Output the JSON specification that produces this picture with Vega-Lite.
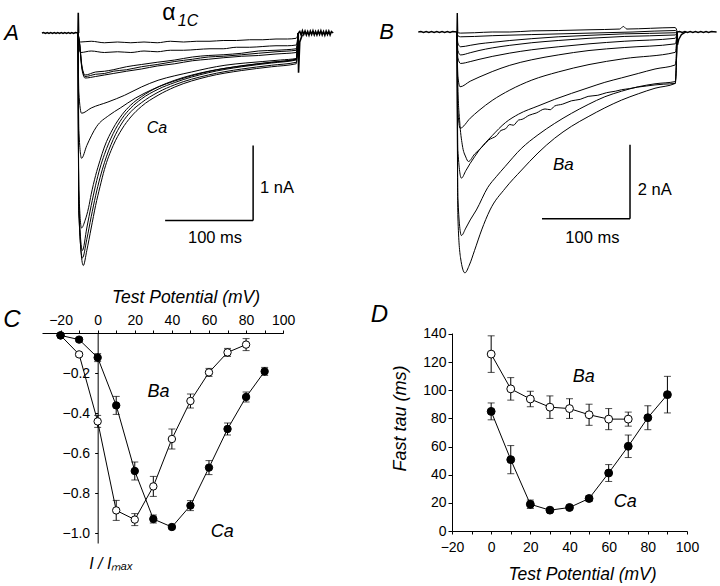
{
"padding": 0,
"autosize": {"type": "pad"},
"background": "white",
"spacing": 53,
"bounds": "flush",
"config": {
  "view": {"stroke": null},
  "font": "Liberation Sans",
  "text": {"color": "black", "font": "Liberation Sans"},
  "axis": {"grid": false, "domainColor": "black", "tickColor": "black", "labelColor": "black", "titleColor": "black", "labelFontSize": 14, "titleFontSize": 17.5, "titleFontStyle": "italic", "titleFontWeight": "normal", "labelFont": "Liberation Sans", "titleFont": "Liberation Sans", "tickSize": 3, "domainWidth": 1, "tickWidth": 1, "labelFlush": false, "labelOverlap": false}
},
"datasets": {
  "trA": [
    {"k":"a1","t":0,"i":0},{"k":"a1","t":1,"i":-0.09},{"k":"a1","t":3,"i":-0.12},{"k":"a1","t":15,"i":-0.11},{"k":"a1","t":30,"i":-0.13},{"k":"a1","t":45,"i":-0.12},{"k":"a1","t":60,"i":-0.13},{"k":"a1","t":75,"i":-0.12},{"k":"a1","t":90,"i":-0.13},{"k":"a1","t":105,"i":-0.11},{"k":"a1","t":120,"i":-0.12},{"k":"a1","t":135,"i":-0.11},{"k":"a1","t":150,"i":-0.11},{"k":"a1","t":165,"i":-0.1},{"k":"a1","t":180,"i":-0.1},{"k":"a1","t":195,"i":-0.09},{"k":"a1","t":210,"i":-0.09},{"k":"a1","t":225,"i":-0.08},{"k":"a1","t":238,"i":-0.08},{"k":"a1","t":248,"i":-0.07},{"k":"a1","t":250.3,"i":0},
    {"k":"a2","t":0,"i":0},{"k":"a2","t":1,"i":-0.18},{"k":"a2","t":3,"i":-0.26},{"k":"a2","t":15,"i":-0.24},{"k":"a2","t":30,"i":-0.26},{"k":"a2","t":45,"i":-0.25},{"k":"a2","t":60,"i":-0.26},{"k":"a2","t":75,"i":-0.24},{"k":"a2","t":90,"i":-0.25},{"k":"a2","t":105,"i":-0.23},{"k":"a2","t":120,"i":-0.23},{"k":"a2","t":135,"i":-0.22},{"k":"a2","t":150,"i":-0.21},{"k":"a2","t":165,"i":-0.21},{"k":"a2","t":180,"i":-0.19},{"k":"a2","t":195,"i":-0.19},{"k":"a2","t":210,"i":-0.18},{"k":"a2","t":225,"i":-0.17},{"k":"a2","t":238,"i":-0.17},{"k":"a2","t":248,"i":-0.16},{"k":"a2","t":250.3,"i":0},
    {"k":"a3","t":0,"i":0},{"k":"a3","t":2,"i":-0.16},{"k":"a3","t":4,"i":-0.42},{"k":"a3","t":6,"i":-0.54},{"k":"a3","t":8,"i":-0.58},{"k":"a3","t":20,"i":-0.55},{"k":"a3","t":30,"i":-0.54},{"k":"a3","t":40,"i":-0.51},{"k":"a3","t":55,"i":-0.49},{"k":"a3","t":72,"i":-0.45},{"k":"a3","t":90,"i":-0.42},{"k":"a3","t":110,"i":-0.38},{"k":"a3","t":130,"i":-0.35},{"k":"a3","t":148,"i":-0.32},{"k":"a3","t":165,"i":-0.31},{"k":"a3","t":186,"i":-0.29},{"k":"a3","t":205,"i":-0.27},{"k":"a3","t":225,"i":-0.25},{"k":"a3","t":248,"i":-0.23},{"k":"a3","t":250.3,"i":0},
    {"k":"a4","t":0,"i":0},{"k":"a4","t":2,"i":-0.15},{"k":"a4","t":4,"i":-0.4},{"k":"a4","t":6,"i":-0.52},{"k":"a4","t":8,"i":-0.56},{"k":"a4","t":20,"i":-0.52},{"k":"a4","t":30,"i":-0.51},{"k":"a4","t":40,"i":-0.49},{"k":"a4","t":55,"i":-0.45},{"k":"a4","t":72,"i":-0.42},{"k":"a4","t":90,"i":-0.39},{"k":"a4","t":110,"i":-0.36},{"k":"a4","t":130,"i":-0.32},{"k":"a4","t":148,"i":-0.3},{"k":"a4","t":165,"i":-0.29},{"k":"a4","t":186,"i":-0.27},{"k":"a4","t":205,"i":-0.24},{"k":"a4","t":225,"i":-0.23},{"k":"a4","t":248,"i":-0.21},{"k":"a4","t":250.3,"i":0},
    {"k":"a5","t":0,"i":0},{"k":"a5","t":2,"i":-0.17},{"k":"a5","t":4,"i":-0.44},{"k":"a5","t":6,"i":-0.56},{"k":"a5","t":8,"i":-0.6},{"k":"a5","t":20,"i":-0.58},{"k":"a5","t":30,"i":-0.56},{"k":"a5","t":40,"i":-0.54},{"k":"a5","t":55,"i":-0.51},{"k":"a5","t":72,"i":-0.48},{"k":"a5","t":90,"i":-0.44},{"k":"a5","t":110,"i":-0.41},{"k":"a5","t":130,"i":-0.37},{"k":"a5","t":148,"i":-0.35},{"k":"a5","t":165,"i":-0.33},{"k":"a5","t":186,"i":-0.31},{"k":"a5","t":205,"i":-0.3},{"k":"a5","t":225,"i":-0.28},{"k":"a5","t":248,"i":-0.26},{"k":"a5","t":250.3,"i":0},
    {"k":"a6","t":0,"i":0},{"k":"a6","t":1,"i":-0.8},{"k":"a6","t":4,"i":-1.07},{"k":"a6","t":15,"i":-1.0},{"k":"a6","t":34,"i":-0.92},{"k":"a6","t":53,"i":-0.83},{"k":"a6","t":72,"i":-0.72},{"k":"a6","t":91,"i":-0.63},{"k":"a6","t":110,"i":-0.57},{"k":"a6","t":129,"i":-0.52},{"k":"a6","t":148,"i":-0.47},{"k":"a6","t":167,"i":-0.43},{"k":"a6","t":190,"i":-0.4},{"k":"a6","t":210,"i":-0.38},{"k":"a6","t":230,"i":-0.36},{"k":"a6","t":248,"i":-0.34},{"k":"a6","t":250.3,"i":0},
    {"k":"a7","t":0,"i":0},{"k":"a7","t":1,"i":-1.3},{"k":"a7","t":4,"i":-1.67},{"k":"a7","t":10,"i":-1.5},{"k":"a7","t":21,"i":-1.25},{"k":"a7","t":35,"i":-1.1},{"k":"a7","t":48,"i":-1.0},{"k":"a7","t":65,"i":-0.87},{"k":"a7","t":85,"i":-0.75},{"k":"a7","t":115,"i":-0.62},{"k":"a7","t":150,"i":-0.51},{"k":"a7","t":190,"i":-0.43},{"k":"a7","t":220,"i":-0.39},{"k":"a7","t":248,"i":-0.35},{"k":"a7","t":250.3,"i":0},
    {"k":"a8","t":0,"i":0},{"k":"a8","t":1,"i":-2.1},{"k":"a8","t":4,"i":-2.6},{"k":"a8","t":8,"i":-2.5},{"k":"a8","t":12,"i":-2.33},{"k":"a8","t":15,"i":-2.15},{"k":"a8","t":20,"i":-1.9},{"k":"a8","t":25,"i":-1.7},{"k":"a8","t":30,"i":-1.52},{"k":"a8","t":40,"i":-1.27},{"k":"a8","t":50,"i":-1.09},{"k":"a8","t":60,"i":-0.96},{"k":"a8","t":72,"i":-0.85},{"k":"a8","t":91,"i":-0.72},{"k":"a8","t":110,"i":-0.63},{"k":"a8","t":148,"i":-0.51},{"k":"a8","t":186,"i":-0.44},{"k":"a8","t":220,"i":-0.39},{"k":"a8","t":248,"i":-0.35},{"k":"a8","t":250.3,"i":0},
    {"k":"a9","t":0,"i":0},{"k":"a9","t":1,"i":-2.3},{"k":"a9","t":5,"i":-2.9},{"k":"a9","t":10,"i":-2.6},{"k":"a9","t":15,"i":-2.3},{"k":"a9","t":20,"i":-2.03},{"k":"a9","t":25,"i":-1.8},{"k":"a9","t":30,"i":-1.62},{"k":"a9","t":40,"i":-1.34},{"k":"a9","t":50,"i":-1.14},{"k":"a9","t":60,"i":-1.0},{"k":"a9","t":72,"i":-0.88},{"k":"a9","t":91,"i":-0.75},{"k":"a9","t":110,"i":-0.66},{"k":"a9","t":148,"i":-0.53},{"k":"a9","t":186,"i":-0.45},{"k":"a9","t":220,"i":-0.4},{"k":"a9","t":248,"i":-0.36},{"k":"a9","t":250.3,"i":0},
    {"k":"a10","t":0,"i":0},{"k":"a10","t":1,"i":-2.4},{"k":"a10","t":5,"i":-3.0},{"k":"a10","t":10,"i":-2.75},{"k":"a10","t":15,"i":-2.45},{"k":"a10","t":20,"i":-2.17},{"k":"a10","t":25,"i":-1.93},{"k":"a10","t":30,"i":-1.73},{"k":"a10","t":40,"i":-1.42},{"k":"a10","t":50,"i":-1.2},{"k":"a10","t":60,"i":-1.05},{"k":"a10","t":72,"i":-0.93},{"k":"a10","t":91,"i":-0.79},{"k":"a10","t":110,"i":-0.69},{"k":"a10","t":148,"i":-0.56},{"k":"a10","t":186,"i":-0.48},{"k":"a10","t":220,"i":-0.43},{"k":"a10","t":248,"i":-0.39},{"k":"a10","t":250.3,"i":0},
    {"k":"a11","t":0,"i":0},{"k":"a11","t":1,"i":-2.4},{"k":"a11","t":6,"i":-3.1},{"k":"a11","t":10,"i":-2.9},{"k":"a11","t":15,"i":-2.6},{"k":"a11","t":20,"i":-2.3},{"k":"a11","t":25,"i":-2.05},{"k":"a11","t":30,"i":-1.82},{"k":"a11","t":40,"i":-1.5},{"k":"a11","t":50,"i":-1.28},{"k":"a11","t":60,"i":-1.12},{"k":"a11","t":72,"i":-0.98},{"k":"a11","t":91,"i":-0.83},{"k":"a11","t":110,"i":-0.72},{"k":"a11","t":148,"i":-0.58},{"k":"a11","t":186,"i":-0.5},{"k":"a11","t":220,"i":-0.45},{"k":"a11","t":248,"i":-0.41},{"k":"a11","t":250.3,"i":0}
  ],
  "bsA": [
    {"k":"pre","t":-41,"i":0},{"k":"pre","t":-39,"i":0.006},{"k":"pre","t":-37,"i":-0.006},{"k":"pre","t":-35,"i":0.006},{"k":"pre","t":-33,"i":-0.006},{"k":"pre","t":-31,"i":0.006},{"k":"pre","t":-29,"i":-0.006},{"k":"pre","t":-27,"i":0.006},{"k":"pre","t":-25,"i":-0.006},{"k":"pre","t":-23,"i":0.006},{"k":"pre","t":-21,"i":-0.006},{"k":"pre","t":-19,"i":0.006},{"k":"pre","t":-17,"i":-0.006},{"k":"pre","t":-15,"i":0.006},{"k":"pre","t":-13,"i":-0.006},{"k":"pre","t":-11,"i":0.006},{"k":"pre","t":-9,"i":-0.006},{"k":"pre","t":-7,"i":0.006},{"k":"pre","t":-5,"i":-0.006},{"k":"pre","t":-3,"i":0.006},{"k":"pre","t":0,"i":0},
    {"k":"post","t":250.3,"i":0},{"k":"post","t":252,"i":0.02},{"k":"post","t":253.5,"i":-0.025},{"k":"post","t":255,"i":0.03},{"k":"post","t":256.5,"i":-0.02},{"k":"post","t":258,"i":0.025},{"k":"post","t":259.5,"i":-0.025},{"k":"post","t":261,"i":0.02},{"k":"post","t":262.5,"i":-0.03},{"k":"post","t":264,"i":0.025},{"k":"post","t":265.5,"i":-0.02},{"k":"post","t":267,"i":0.03},{"k":"post","t":268.5,"i":-0.025},{"k":"post","t":270,"i":0.02},{"k":"post","t":271.5,"i":-0.025},{"k":"post","t":273,"i":0.025},{"k":"post","t":274.5,"i":-0.02},{"k":"post","t":276,"i":0.03},{"k":"post","t":277.5,"i":-0.025},{"k":"post","t":279,"i":0.02},{"k":"post","t":280.5,"i":-0.03},{"k":"post","t":282,"i":0.025},{"k":"post","t":283.5,"i":-0.02},{"k":"post","t":285,"i":0.025},{"k":"post","t":286.5,"i":-0.025},{"k":"post","t":288,"i":0.02},{"k":"post","t":290,"i":0},
    {"k":"cap","t":0,"i":0},{"k":"cap","t":0.3,"i":0.27},{"k":"cap","t":0.7,"i":0},
    {"k":"tail","t":250.3,"i":0},{"k":"tail","t":250.6,"i":-0.53},{"k":"tail","t":252,"i":-0.12},{"k":"tail","t":255,"i":-0.02}
  ],
  "barA": [{"t":99,"t2":199,"i":-2.5,"i2":-2.5},{"t":199,"t2":199,"i":-2.5,"i2":-1.5}],
  "txA": [
    {"g":"L","t":-75.6,"i":0,"s":"A"},
    {"g":"al","t":103.4,"i":0.27,"s":"α"},
    {"g":"it","t":125,"i":0.16,"s":"1C"},
    {"g":"it","t":89.8,"i":-1.267,"s":"Ca"},
    {"g":"sc","t":226.1,"i":-2.067,"s":"1 nA"},
    {"g":"sc","t":155.7,"i":-2.733,"s":"100 ms"}
  ],
  "trB": [
    {"k":"b1","t":0,"i":0},{"k":"b1","t":1,"i":-0.02},{"k":"b1","t":4,"i":-0.03},{"k":"b1","t":20,"i":-0.02},{"k":"b1","t":40,"i":0.0},{"k":"b1","t":60,"i":0.0},{"k":"b1","t":85,"i":0.03},{"k":"b1","t":115,"i":0.04},{"k":"b1","t":150,"i":0.06},{"k":"b1","t":185,"i":0.08},{"k":"b1","t":189,"i":0.15},{"k":"b1","t":193,"i":0.08},{"k":"b1","t":220,"i":0.1},{"k":"b1","t":248,"i":0.12},{"k":"b1","t":250.3,"i":0},
    {"k":"b2","t":0,"i":0},{"k":"b2","t":1,"i":-0.1},{"k":"b2","t":4,"i":-0.13},{"k":"b2","t":20,"i":-0.12},{"k":"b2","t":40,"i":-0.1},{"k":"b2","t":85,"i":-0.07},{"k":"b2","t":150,"i":-0.03},{"k":"b2","t":200,"i":0.0},{"k":"b2","t":248,"i":0.04},{"k":"b2","t":250.3,"i":0},
    {"k":"b3","t":0,"i":0},{"k":"b3","t":1,"i":-0.3},{"k":"b3","t":4,"i":-0.4},{"k":"b3","t":15,"i":-0.36},{"k":"b3","t":25,"i":-0.32},{"k":"b3","t":40,"i":-0.28},{"k":"b3","t":60,"i":-0.23},{"k":"b3","t":85,"i":-0.18},{"k":"b3","t":115,"i":-0.13},{"k":"b3","t":150,"i":-0.09},{"k":"b3","t":190,"i":-0.05},{"k":"b3","t":248,"i":-0.02},{"k":"b3","t":250.3,"i":0},
    {"k":"b4","t":0,"i":0},{"k":"b4","t":1,"i":-0.5},{"k":"b4","t":4,"i":-0.62},{"k":"b4","t":15,"i":-0.56},{"k":"b4","t":25,"i":-0.5},{"k":"b4","t":40,"i":-0.43},{"k":"b4","t":60,"i":-0.36},{"k":"b4","t":85,"i":-0.29},{"k":"b4","t":115,"i":-0.23},{"k":"b4","t":150,"i":-0.17},{"k":"b4","t":190,"i":-0.12},{"k":"b4","t":248,"i":-0.08},{"k":"b4","t":250.3,"i":0},
    {"k":"b5","t":0,"i":0},{"k":"b5","t":1,"i":-0.7},{"k":"b5","t":4,"i":-0.85},{"k":"b5","t":15,"i":-0.8},{"k":"b5","t":25,"i":-0.74},{"k":"b5","t":40,"i":-0.66},{"k":"b5","t":60,"i":-0.57},{"k":"b5","t":85,"i":-0.48},{"k":"b5","t":115,"i":-0.4},{"k":"b5","t":150,"i":-0.32},{"k":"b5","t":190,"i":-0.25},{"k":"b5","t":248,"i":-0.17},{"k":"b5","t":250.3,"i":0},
    {"k":"b6","t":0,"i":0},{"k":"b6","t":1,"i":-1.2},{"k":"b6","t":3.5,"i":-1.48},{"k":"b6","t":15,"i":-1.33},{"k":"b6","t":25,"i":-1.22},{"k":"b6","t":40,"i":-1.07},{"k":"b6","t":60,"i":-0.9},{"k":"b6","t":85,"i":-0.75},{"k":"b6","t":115,"i":-0.62},{"k":"b6","t":150,"i":-0.5},{"k":"b6","t":190,"i":-0.42},{"k":"b6","t":248,"i":-0.32},{"k":"b6","t":250.3,"i":0},
    {"k":"b7","t":0,"i":0},{"k":"b7","t":1,"i":-2.1},{"k":"b7","t":3.5,"i":-2.6},{"k":"b7","t":15,"i":-2.33},{"k":"b7","t":25,"i":-2.12},{"k":"b7","t":40,"i":-1.85},{"k":"b7","t":60,"i":-1.57},{"k":"b7","t":85,"i":-1.3},{"k":"b7","t":115,"i":-1.08},{"k":"b7","t":150,"i":-0.88},{"k":"b7","t":190,"i":-0.72},{"k":"b7","t":248,"i":-0.55},{"k":"b7","t":250.3,"i":0},
    {"k":"b8","t":0,"i":0},{"k":"b8","t":1,"i":-1.5},{"k":"b8","t":3,"i":-2.4},{"k":"b8","t":6,"i":-3.05},{"k":"b8","t":10,"i":-3.38},{"k":"b8","t":13,"i":-3.5},{"k":"b8","t":20,"i":-3.3},{"k":"b8","t":28,"i":-3.12},{"k":"b8","t":36,"i":-2.92},{"k":"b8","t":45,"i":-2.8},{"k":"b8","t":50,"i":-2.66},{"k":"b8","t":55,"i":-2.62},{"k":"b8","t":60,"i":-2.5},{"k":"b8","t":64,"i":-2.52},{"k":"b8","t":70,"i":-2.38},{"k":"b8","t":74,"i":-2.36},{"k":"b8","t":82,"i":-2.25},{"k":"b8","t":90,"i":-2.19},{"k":"b8","t":100,"i":-2.08},{"k":"b8","t":106,"i":-2.1},{"k":"b8","t":111,"i":-2.0},{"k":"b8","t":120,"i":-1.95},{"k":"b8","t":130,"i":-1.86},{"k":"b8","t":140,"i":-1.82},{"k":"b8","t":149,"i":-1.74},{"k":"b8","t":160,"i":-1.71},{"k":"b8","t":170,"i":-1.64},{"k":"b8","t":180,"i":-1.6},{"k":"b8","t":187,"i":-1.56},{"k":"b8","t":196,"i":-1.53},{"k":"b8","t":205,"i":-1.49},{"k":"b8","t":215,"i":-1.46},{"k":"b8","t":225,"i":-1.43},{"k":"b8","t":235,"i":-1.41},{"k":"b8","t":248,"i":-1.39},{"k":"b8","t":250.3,"i":0},
    {"k":"b9","t":0,"i":0},{"k":"b9","t":1,"i":-3.2},{"k":"b9","t":5,"i":-3.95},{"k":"b9","t":10,"i":-3.75},{"k":"b9","t":15,"i":-3.55},{"k":"b9","t":20,"i":-3.37},{"k":"b9","t":25,"i":-3.2},{"k":"b9","t":40,"i":-2.8},{"k":"b9","t":55,"i":-2.45},{"k":"b9","t":70,"i":-2.22},{"k":"b9","t":92,"i":-2.0},{"k":"b9","t":111,"i":-1.82},{"k":"b9","t":130,"i":-1.66},{"k":"b9","t":150,"i":-1.5},{"k":"b9","t":168,"i":-1.36},{"k":"b9","t":187,"i":-1.24},{"k":"b9","t":206,"i":-1.12},{"k":"b9","t":225,"i":-1.0},{"k":"b9","t":248,"i":-0.89},{"k":"b9","t":250.3,"i":0},
    {"k":"b10","t":0,"i":0},{"k":"b10","t":1,"i":-4.5},{"k":"b10","t":5,"i":-5.5},{"k":"b10","t":10,"i":-5.3},{"k":"b10","t":15,"i":-5.08},{"k":"b10","t":22,"i":-4.81},{"k":"b10","t":35,"i":-4.2},{"k":"b10","t":45,"i":-3.9},{"k":"b10","t":54.5,"i":-3.64},{"k":"b10","t":73,"i":-3.15},{"k":"b10","t":92,"i":-2.78},{"k":"b10","t":111,"i":-2.47},{"k":"b10","t":130,"i":-2.2},{"k":"b10","t":149,"i":-1.96},{"k":"b10","t":168,"i":-1.75},{"k":"b10","t":187,"i":-1.6},{"k":"b10","t":206,"i":-1.48},{"k":"b10","t":225,"i":-1.4},{"k":"b10","t":248,"i":-1.34},{"k":"b10","t":250.3,"i":0},
    {"k":"b11","t":0,"i":0},{"k":"b11","t":1,"i":-5.0},{"k":"b11","t":4,"i":-6.1},{"k":"b11","t":9,"i":-6.51},{"k":"b11","t":14,"i":-6.3},{"k":"b11","t":20,"i":-5.9},{"k":"b11","t":28,"i":-5.35},{"k":"b11","t":37.5,"i":-4.81},{"k":"b11","t":55,"i":-4.22},{"k":"b11","t":73.5,"i":-3.73},{"k":"b11","t":92,"i":-3.27},{"k":"b11","t":111,"i":-2.87},{"k":"b11","t":130,"i":-2.55},{"k":"b11","t":149,"i":-2.29},{"k":"b11","t":168,"i":-2.05},{"k":"b11","t":187,"i":-1.84},{"k":"b11","t":206,"i":-1.67},{"k":"b11","t":225,"i":-1.52},{"k":"b11","t":248,"i":-1.39},{"k":"b11","t":250.3,"i":0}
  ],
  "bsB": [
    {"k":"pre","t":-44,"i":0},{"k":"pre","t":-41,"i":0.012},{"k":"pre","t":-38,"i":-0.012},{"k":"pre","t":-35,"i":0.012},{"k":"pre","t":-32,"i":-0.012},{"k":"pre","t":-29,"i":0.012},{"k":"pre","t":-26,"i":-0.012},{"k":"pre","t":-23,"i":0.012},{"k":"pre","t":-20,"i":-0.012},{"k":"pre","t":-17,"i":0.012},{"k":"pre","t":-14,"i":-0.012},{"k":"pre","t":-11,"i":0.012},{"k":"pre","t":-8,"i":-0.012},{"k":"pre","t":-5,"i":0.012},{"k":"pre","t":0,"i":0},
    {"k":"post","t":250.3,"i":0},{"k":"post","t":253,"i":0.012},{"k":"post","t":256,"i":-0.012},{"k":"post","t":259,"i":0.012},{"k":"post","t":262,"i":-0.012},{"k":"post","t":265,"i":0.012},{"k":"post","t":268,"i":-0.012},{"k":"post","t":271,"i":0.012},{"k":"post","t":274,"i":-0.012},{"k":"post","t":277,"i":0.012},{"k":"post","t":280,"i":-0.012},{"k":"post","t":283,"i":0.012},{"k":"post","t":286,"i":-0.012},{"k":"post","t":289,"i":0.012},{"k":"post","t":295,"i":0},
    {"k":"cap","t":0,"i":0},{"k":"cap","t":0.3,"i":0.51},{"k":"cap","t":0.7,"i":0},
    {"k":"tail","t":250.3,"i":0},{"k":"tail","t":250.6,"i":-0.35},{"k":"tail","t":252,"i":-0.2},{"k":"tail","t":255,"i":-0.07},{"k":"tail","t":260,"i":0}
  ],
  "barB": [{"t":96.6,"t2":196.6,"i":-5.05,"i2":-5.05},{"t":196.6,"t2":196.6,"i":-5.05,"i2":-3.05}],
  "txB": [
    {"g":"L","t":-80.1,"i":0,"s":"B"},
    {"g":"it","t":120.8,"i":-3.6,"s":"Ba"},
    {"g":"sc","t":224.8,"i":-4.27,"s":"2 nA"},
    {"g":"sc","t":153.8,"i":-5.57,"s":"100 ms"}
  ],
  "C": [
    {"s":"Ba","v":-20,"m":-0.012,"lo":-0.022,"hi":-0.002},
    {"s":"Ba","v":-10,"m":-0.107,"lo":-0.117,"hi":-0.097},
    {"s":"Ba","v":0,"m":-0.442,"lo":-0.472,"hi":-0.412},
    {"s":"Ba","v":10,"m":-0.887,"lo":-0.937,"hi":-0.837},
    {"s":"Ba","v":20,"m":-0.933,"lo":-0.963,"hi":-0.903},
    {"s":"Ba","v":30,"m":-0.767,"lo":-0.817,"hi":-0.717},
    {"s":"Ba","v":40,"m":-0.53,"lo":-0.58,"hi":-0.48},
    {"s":"Ba","v":50,"m":-0.34,"lo":-0.375,"hi":-0.305},
    {"s":"Ba","v":60,"m":-0.197,"lo":-0.217,"hi":-0.177},
    {"s":"Ba","v":70,"m":-0.097,"lo":-0.117,"hi":-0.077},
    {"s":"Ba","v":80,"m":-0.058,"lo":-0.088,"hi":-0.028},
    {"s":"Ca","v":-20,"m":-0.012,"lo":-0.02,"hi":-0.004},
    {"s":"Ca","v":-10,"m":-0.033,"lo":-0.043,"hi":-0.023},
    {"s":"Ca","v":0,"m":-0.123,"lo":-0.143,"hi":-0.103},
    {"s":"Ca","v":10,"m":-0.362,"lo":-0.407,"hi":-0.317},
    {"s":"Ca","v":20,"m":-0.69,"lo":-0.735,"hi":-0.645},
    {"s":"Ca","v":30,"m":-0.93,"lo":-0.95,"hi":-0.91},
    {"s":"Ca","v":40,"m":-0.97,"lo":-0.98,"hi":-0.96},
    {"s":"Ca","v":50,"m":-0.863,"lo":-0.888,"hi":-0.838},
    {"s":"Ca","v":60,"m":-0.673,"lo":-0.708,"hi":-0.638},
    {"s":"Ca","v":70,"m":-0.48,"lo":-0.51,"hi":-0.45},
    {"s":"Ca","v":80,"m":-0.32,"lo":-0.345,"hi":-0.295},
    {"s":"Ca","v":90,"m":-0.192,"lo":-0.212,"hi":-0.172}
  ],
  "txC": [
    {"g":"L","v":-46.2,"m":0.065,"s":"C"},
    {"g":"it","v":32.8,"m":-0.2935,"s":"Ba"},
    {"g":"it","v":67.1,"m":-0.9935,"s":"Ca"}
  ],
  "D": [
    {"s":"Ba","v":0,"m":125.7,"lo":112.7,"hi":138.7},
    {"s":"Ba","v":10,"m":101,"lo":93,"hi":109},
    {"s":"Ba","v":20,"m":93.8,"lo":88.3,"hi":99.3},
    {"s":"Ba","v":30,"m":88,"lo":80,"hi":96},
    {"s":"Ba","v":40,"m":87,"lo":80,"hi":94},
    {"s":"Ba","v":50,"m":82.6,"lo":75.1,"hi":90.1},
    {"s":"Ba","v":60,"m":79.5,"lo":72,"hi":87},
    {"s":"Ba","v":70,"m":79.5,"lo":74.5,"hi":84.5},
    {"s":"Ca","v":0,"m":85,"lo":79,"hi":91},
    {"s":"Ca","v":10,"m":50.7,"lo":40.7,"hi":60.7},
    {"s":"Ca","v":20,"m":19,"lo":16,"hi":22},
    {"s":"Ca","v":30,"m":14.8,"lo":13.8,"hi":15.8},
    {"s":"Ca","v":40,"m":16.7,"lo":15.7,"hi":17.7},
    {"s":"Ca","v":50,"m":23.1,"lo":21.1,"hi":25.1},
    {"s":"Ca","v":60,"m":41.2,"lo":35.2,"hi":47.2},
    {"s":"Ca","v":70,"m":60.2,"lo":52.2,"hi":68.2},
    {"s":"Ca","v":80,"m":80.5,"lo":72,"hi":89},
    {"s":"Ca","v":90,"m":96.9,"lo":83.9,"hi":109.9}
  ],
  "txD": [
    {"g":"L","v":-57.0,"m":153.5,"s":"D"},
    {"g":"it","v":47.25,"m":109.2,"s":"Ba"},
    {"g":"it","v":68.5,"m":20.8,"s":"Ca"}
  ]
},
"vconcat": [
  {
    "width": 720, "height": 280,
    "resolve": {"scale": {"x": "independent", "y": "independent"}},
    "layer": [
      {
        "encoding": {
          "x": {"field": "t", "type": "quantitative", "scale": {"domain": [-88.64, 729.55], "nice": false, "zero": false}, "axis": null},
          "y": {"field": "i", "type": "quantitative", "scale": {"domain": [-3.2933, 0.44], "nice": false, "zero": false}, "axis": null}
        },
        "layer": [
          {"data": {"name": "trA"}, "mark": {"type": "line", "color": "black", "strokeWidth": 1, "interpolate": "monotone"}, "encoding": {"detail": {"field": "k", "type": "nominal"}}},
          {"data": {"name": "bsA"}, "mark": {"type": "line", "color": "black", "strokeWidth": 1.6}, "encoding": {"detail": {"field": "k", "type": "nominal"}}},
          {"data": {"name": "barA"}, "mark": {"type": "rule", "color": "black", "strokeWidth": 1.5}, "encoding": {"x2": {"field": "t2"}, "y2": {"field": "i2"}}},
          {"data": {"name": "txA"}, "transform": [{"filter": "datum.g == 'L'"}], "mark": {"type": "text", "fontSize": 22, "fontStyle": "italic"}, "encoding": {"text": {"field": "s", "type": "nominal"}}},
          {"data": {"name": "txA"}, "transform": [{"filter": "datum.g == 'al'"}], "mark": {"type": "text", "fontSize": 23}, "encoding": {"text": {"field": "s", "type": "nominal"}}},
          {"data": {"name": "txA"}, "transform": [{"filter": "datum.g == 'it'"}], "mark": {"type": "text", "fontSize": 16, "fontStyle": "italic"}, "encoding": {"text": {"field": "s", "type": "nominal"}}},
          {"data": {"name": "txA"}, "transform": [{"filter": "datum.g == 'sc'"}], "mark": {"type": "text", "fontSize": 16.5}, "encoding": {"text": {"field": "s", "type": "nominal"}}}
        ]
      },
      {
        "encoding": {
          "x": {"field": "t", "type": "quantitative", "scale": {"domain": [-519.32, 298.86], "nice": false, "zero": false}, "axis": null},
          "y": {"field": "i", "type": "quantitative", "scale": {"domain": [-6.7027, 0.8649], "nice": false, "zero": false}, "axis": null}
        },
        "layer": [
          {"data": {"name": "trB"}, "mark": {"type": "line", "color": "black", "strokeWidth": 1, "interpolate": "monotone"}, "encoding": {"detail": {"field": "k", "type": "nominal"}}},
          {"data": {"name": "bsB"}, "mark": {"type": "line", "color": "black", "strokeWidth": 1.4}, "encoding": {"detail": {"field": "k", "type": "nominal"}}},
          {"data": {"name": "barB"}, "mark": {"type": "rule", "color": "black", "strokeWidth": 1.5}, "encoding": {"x2": {"field": "t2"}, "y2": {"field": "i2"}}},
          {"data": {"name": "txB"}, "transform": [{"filter": "datum.g == 'L'"}], "mark": {"type": "text", "fontSize": 22, "fontStyle": "italic"}, "encoding": {"text": {"field": "s", "type": "nominal"}}},
          {"data": {"name": "txB"}, "transform": [{"filter": "datum.g == 'it'"}], "mark": {"type": "text", "fontSize": 17, "fontStyle": "italic"}, "encoding": {"text": {"field": "s", "type": "nominal"}}},
          {"data": {"name": "txB"}, "transform": [{"filter": "datum.g == 'sc'"}], "mark": {"type": "text", "fontSize": 16.5}, "encoding": {"text": {"field": "s", "type": "nominal"}}}
        ]
      }
    ]
  },
  {
    "hconcat": [
      {"width": 41.5, "height": 10, "data": {"values": [{"a": 0}]}, "mark": {"type": "point", "opacity": 0}, "encoding": {}},
      {
        "width": 241.2, "height": 210,
        "encoding": {
          "x": {"field": "v", "type": "quantitative", "scale": {"domain": [-30, 100], "nice": false, "zero": false},
                "axis": {"orient": "top", "values": [-20, -10, 0, 10, 20, 30, 40, 50, 60, 70, 80, 90, 100], "labelExpr": "datum.value % 20 === 0 ? datum.label : ''", "title": "Test Potential (mV)", "titleX": 143.5, "titleY": -36, "titleAlign": "center", "titleBaseline": "middle", "labelPadding": 3, "tickSize": 3}},
          "y": {"field": "m", "type": "quantitative", "scale": {"domain": [-1.05, 0], "nice": false, "zero": false},
                "axis": {"orient": "left", "offset": -55.66, "values": [-1.0, -0.8, -0.6, -0.4, -0.2], "format": ".1f", "title": "I / Iₘₐₓ", "titleAngle": 0, "titleX": 13, "titleY": 230, "titleAlign": "center", "titleBaseline": "middle", "titleFontSize": 16, "labelPadding": 5, "tickSize": 3}}
        },
        "layer": [
          {"data": {"name": "C"}, "mark": {"type": "line", "color": "black", "strokeWidth": 1}, "encoding": {"detail": {"field": "s", "type": "nominal"}}},
          {"data": {"name": "C"}, "mark": {"type": "errorbar", "ticks": {"size": 7}, "color": "black"}, "encoding": {"y": {"field": "lo", "type": "quantitative", "scale": {"domain": [-1.05, 0], "nice": false, "zero": false}, "title": "I / Iₘₐₓ"}, "y2": {"field": "hi"}, "detail": {"field": "s", "type": "nominal"}}},
          {"data": {"name": "C"}, "mark": {"type": "point", "filled": true, "size": 55, "stroke": "black", "strokeWidth": 1, "opacity": 1}, "encoding": {"fill": {"field": "s", "type": "nominal", "scale": {"domain": ["Ba", "Ca"], "range": ["white", "black"]}, "legend": null}}},
          {"data": {"name": "txC"}, "transform": [{"filter": "datum.g == 'L'"}], "mark": {"type": "text", "fontSize": 24, "fontStyle": "italic"}, "encoding": {"text": {"field": "s", "type": "nominal"}}},
          {"data": {"name": "txC"}, "transform": [{"filter": "datum.g == 'it'"}], "mark": {"type": "text", "fontSize": 18, "fontStyle": "italic"}, "encoding": {"text": {"field": "s", "type": "nominal"}}}
        ]
      },
      {"width": 167.3, "height": 10, "data": {"values": [{"a": 0}]}, "mark": {"type": "point", "opacity": 0}, "encoding": {}},
      {
        "width": 235, "height": 198,
        "encoding": {
          "x": {"field": "v", "type": "quantitative", "scale": {"domain": [-20, 100], "nice": false, "zero": false},
                "axis": {"orient": "bottom", "values": [-20, -10, 0, 10, 20, 30, 40, 50, 60, 70, 80, 90, 100], "labelExpr": "datum.value % 20 === 0 ? datum.label : ''", "title": "Test Potential (mV)", "titleX": 130, "titleY": 43, "titleAlign": "center", "titleBaseline": "middle", "labelPadding": 6, "tickSize": 3}},
          "y": {"field": "m", "type": "quantitative", "scale": {"domain": [0, 140.7], "nice": false, "zero": false},
                "axis": {"orient": "left", "values": [0, 20, 40, 60, 80, 100, 120, 140], "title": "Fast tau (ms)", "titleAngle": 270, "titleX": -52, "titleY": 85, "titleAlign": "center", "titleBaseline": "middle", "titleFontSize": 18, "labelPadding": 2, "tickSize": 4}}
        },
        "layer": [
          {"data": {"name": "D"}, "mark": {"type": "line", "color": "black", "strokeWidth": 1}, "encoding": {"detail": {"field": "s", "type": "nominal"}}},
          {"data": {"name": "D"}, "mark": {"type": "errorbar", "ticks": {"size": 7}, "color": "black"}, "encoding": {"y": {"field": "lo", "type": "quantitative", "scale": {"domain": [0, 140.7], "nice": false, "zero": false}, "title": "Fast tau (ms)"}, "y2": {"field": "hi"}, "detail": {"field": "s", "type": "nominal"}}},
          {"data": {"name": "D"}, "mark": {"type": "point", "filled": true, "size": 62, "stroke": "black", "strokeWidth": 1, "opacity": 1}, "encoding": {"fill": {"field": "s", "type": "nominal", "scale": {"domain": ["Ba", "Ca"], "range": ["white", "black"]}, "legend": null}}},
          {"data": {"name": "txD"}, "transform": [{"filter": "datum.g == 'L'"}], "mark": {"type": "text", "fontSize": 24, "fontStyle": "italic"}, "encoding": {"text": {"field": "s", "type": "nominal"}}},
          {"data": {"name": "txD"}, "transform": [{"filter": "datum.g == 'it'"}], "mark": {"type": "text", "fontSize": 18, "fontStyle": "italic"}, "encoding": {"text": {"field": "s", "type": "nominal"}}}
        ]
      }
    ],
    "spacing": 0,
    "bounds": "flush"
  }
]
}
